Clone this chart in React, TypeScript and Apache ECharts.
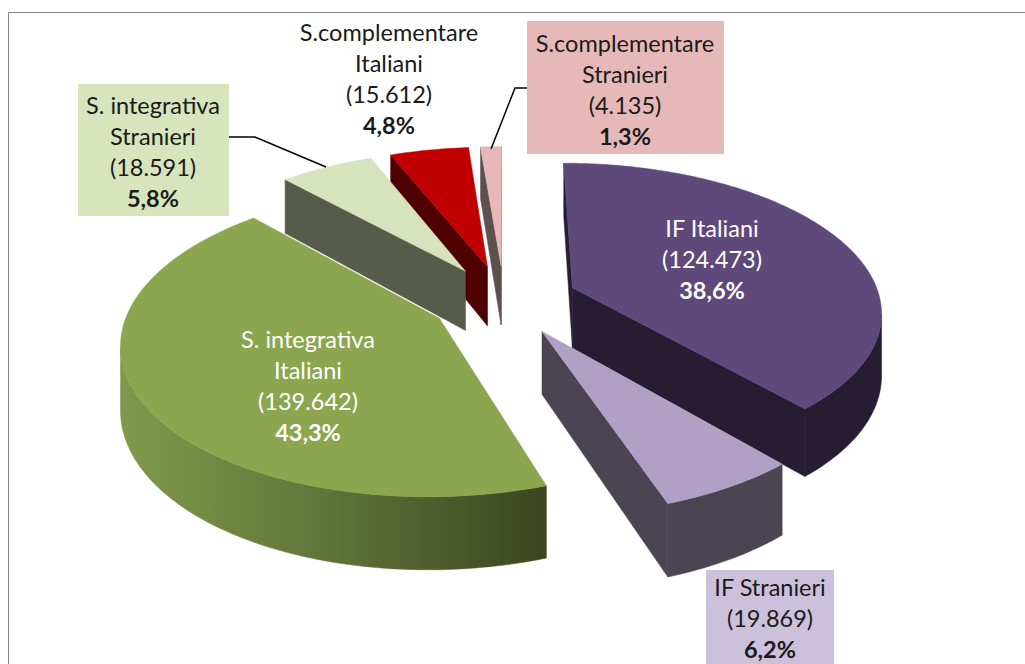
import React, { useEffect, useRef } from "react";
import * as echarts from "echarts";

const names = [
  ["IF Italiani"],
  ["IF Stranieri"],
  ["S. integrativa", "Italiani"],
  ["S. integrativa", "Stranieri"],
  ["S.complementare", "Italiani"],
  ["S.complementare", "Stranieri"],
];
const values = [124473, 19869, 139642, 18591, 15612, 4135];
const valueLabels = ["(124.473)", "(19.869)", "(139.642)", "(18.591)", "(15.612)", "(4.135)"];
const percentLabels = ["38,6%", "6,2%", "43,3%", "5,8%", "4,8%", "1,3%"];

const topColors = ["#5f497a", "#b1a0c6", "#8ba64e", "#d7e3bc", "#c00000", "#e6b9b8"];
const wallColors = ["#261d33", "#4a4453", "#5f7338", "#575b4a", "#4f0000", "#5f5050"];
const drawOrder = [5, 4, 3, 0, 2, 1];

const labelLayout = [
  { cx: 712, y: 228, fill: "#ffffff", box: null },
  { cx: 770, y: 587, fill: "#1a1a1a", box: [706, 570, 128, 94, "#ccc1da"] },
  { cx: 308, y: 339, fill: "#ffffff", box: null },
  { cx: 153, y: 105, fill: "#1a1a1a", box: [78, 84, 151, 132, "#d8e4bc"] },
  { cx: 389, y: 32, fill: "#1a1a1a", box: null },
  { cx: 625, y: 43, fill: "#1a1a1a", box: [527, 21, 197, 133, "#e6b9b8"] },
];
const leaders = [
  [[229, 137], [255, 137], [326, 167]],
  [[527, 88], [515, 88], [491, 149]],
];

const CX = 504, CY = 300, R = 308, K = 0.475, P = 0.147, DEPTH = 61, EXPLODE = 0.24;
const LINE = 31;

const project = (u: number, v: number, z: number) => {
  const s = 1 / (1 - P * v);
  return [CX + R * u * s, CY + R * K * v * s + DEPTH * z * s];
};

const total = values.reduce((a, b) => a + b, 0);
const sliceGeom = (index: number) => {
  const before = values.slice(0, index).reduce((a, b) => a + b, 0);
  const a0 = (before / total) * Math.PI * 2;
  const a1 = ((before + values[index]) / total) * Math.PI * 2;
  const mid = (a0 + a1) / 2;
  const ou = EXPLODE * Math.sin(mid), ov = -EXPLODE * Math.cos(mid);
  const steps = Math.max(4, Math.ceil((a1 - a0) / 0.02));
  const rim: number[][] = [];
  for (let i = 0; i <= steps; i++) {
    const a = a0 + ((a1 - a0) * i) / steps;
    rim.push([ou + Math.sin(a), ov - Math.cos(a)]);
  }
  return { apex: [ou, ov], rim };
};

const poly = (points: number[][], fill: any) => ({
  type: "polygon",
  shape: { points },
  style: { fill, stroke: fill, lineWidth: 0.5 },
  silent: true,
});

const renderItem = (params: any) => {
  const index = drawOrder[params.dataIndex];
  const { apex, rim } = sliceGeom(index);
  const top = rim.map(([u, v]) => project(u, v, 0));
  const bottom = rim.map(([u, v]) => project(u, v, 1));
  const apexTop = project(apex[0], apex[1], 0);
  const apexBottom = project(apex[0], apex[1], 1);
  const wall = wallColors[index];
  const children: any[] = [];
  const last = top.length - 1;
  if (top[0][0] < apexTop[0]) children.push(poly([apexTop, top[0], bottom[0], apexBottom], wall));
  if (apexTop[0] < top[last][0]) children.push(poly([top[last], apexTop, apexBottom, bottom[last]], wall));
  const runTop: number[][] = [];
  const runBottom: number[][] = [];
  for (let i = 0; i < last; i++) {
    if (top[i + 1][0] < top[i][0]) {
      if (!runTop.length) {
        runTop.push(top[i]);
        runBottom.push(bottom[i]);
      }
      runTop.push(top[i + 1]);
      runBottom.push(bottom[i + 1]);
    }
  }
  if (runTop.length) {
    const xs = runTop.map((p) => p[0]);
    const fill =
      index === 2
        ? new echarts.graphic.LinearGradient(Math.min(...xs), 0, Math.max(...xs), 0, [
            { offset: 0, color: "#7f9a4b" },
            { offset: 0.5, color: "#5f7338" },
            { offset: 1, color: "#3b4520" },
          ], true)
        : wall;
    children.push(poly([...runTop, ...runBottom.reverse()], fill));
  }
  children.push(poly([apexTop, ...top], topColors[index]));
  return { type: "group", children };
};

const labelElements = () => {
  const out: any[] = [];
  names.forEach((nameLines, i) => {
    const layout = labelLayout[i];
    if (layout.box) {
      const [x, y, width, height, fill] = layout.box as any[];
      out.push({ type: "rect", z: 10, silent: true, shape: { x, y, width, height }, style: { fill } });
    }
    const lines = [...nameLines, valueLabels[i], percentLabels[i]];
    lines.forEach((text, j) => {
      const bold = j === lines.length - 1;
      out.push({
        type: "text",
        z: 11,
        silent: true,
        style: {
          text,
          x: layout.cx,
          y: layout.y + j * LINE,
          align: "center",
          verticalAlign: "middle",
          lineHeight: 22,
          fill: layout.fill,
          font: `${bold ? "bold " : ""}23.5px Lato`,
        },
      });
    });
  });
  leaders.forEach((points) => {
    out.push({
      type: "polyline",
      z: 9,
      silent: true,
      shape: { points },
      style: { stroke: "#000000", lineWidth: 1.5, fill: "none" },
    });
  });
  out.push({ type: "line", z: 1, silent: true, shape: { x1: 8.5, y1: 12.5, x2: 1025, y2: 12.5 }, style: { stroke: "#868686", lineWidth: 1 } });
  out.push({ type: "line", z: 1, silent: true, shape: { x1: 8.5, y1: 12.5, x2: 8.5, y2: 664 }, style: { stroke: "#868686", lineWidth: 1 } });
  return out;
};

export default function App() {
  const ref = useRef<HTMLDivElement>(null);
  useEffect(() => {
    const chart = echarts.init(ref.current!, null, { renderer: "svg" });
    chart.setOption({
      animation: false,
      backgroundColor: "#ffffff",
      series: [
        {
          type: "custom",
          coordinateSystem: "none",
          silent: true,
          renderItem,
          data: drawOrder.map((i) => [values[i]]),
        },
      ],
      graphic: { elements: labelElements() },
    });
    return () => chart.dispose();
  }, []);
  return <div ref={ref} style={{ position: "fixed", left: 0, top: 0, width: 1025, height: 664 }} />;
}
